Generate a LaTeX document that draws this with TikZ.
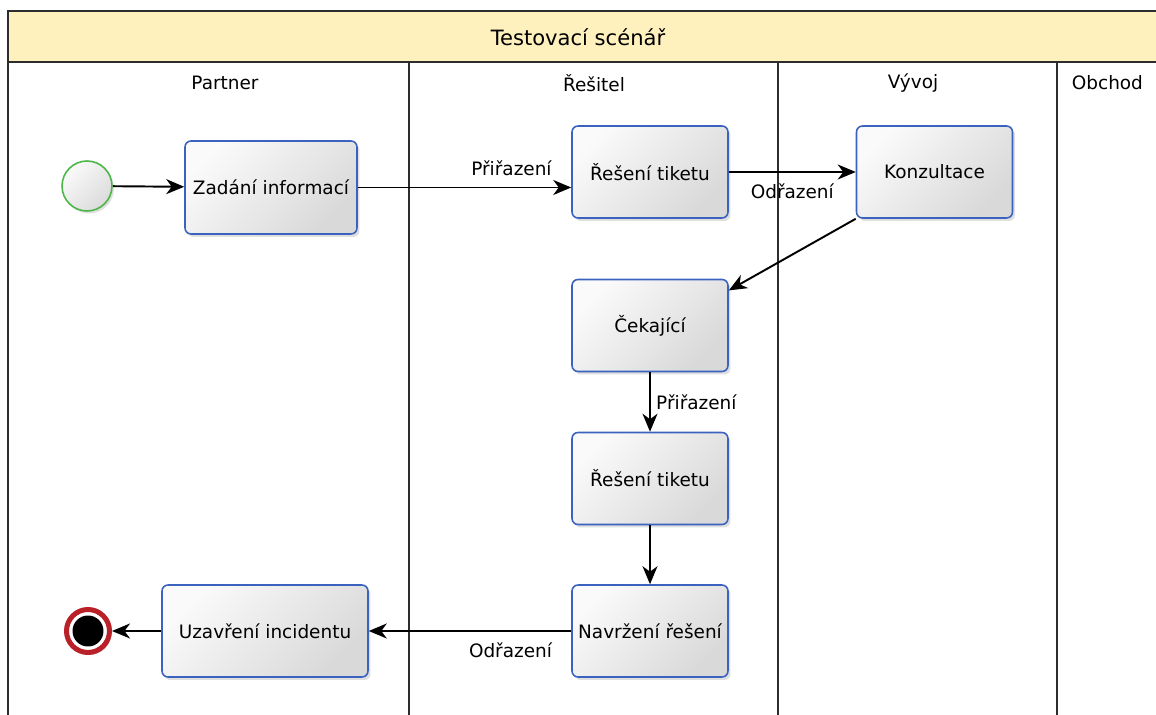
\documentclass[tikz,border=0pt]{standalone}
\usepackage{fontspec}
\setmainfont{DejaVu Sans}
\definecolor{lanegray}{RGB}{45,45,45}
\definecolor{titleyellow}{RGB}{255,241,190}
\definecolor{taskblue}{RGB}{58,98,190}
\definecolor{startgreen}{RGB}{76,182,72}
\definecolor{endred}{RGB}{185,32,40}
\usetikzlibrary{arrows.meta,positioning,shadows}

\begin{document}
\begin{tikzpicture}[x=0.02cm,y=-0.02cm,
  task/.style={draw=taskblue,line width=0.9pt,rounded corners=0.12cm,
    top color=gray!4,bottom color=gray!30,shading angle=45,
    drop shadow={shadow xshift=0.05cm,shadow yshift=-0.06cm,opacity=0.25},
    minimum width=3.12cm,minimum height=1.84cm,
    font=\fontsize{10.5}{12}\selectfont,inner sep=2pt},
  startnode/.style={draw=startgreen,circle,line width=0.9pt,minimum size=1cm,
    top color=gray!4,bottom color=gray!28,shading angle=45,
    drop shadow={shadow xshift=0.04cm,shadow yshift=-0.05cm,opacity=0.25}},
  endnode/.style={draw=endred,circle,line width=0.1cm,minimum size=0.86cm,fill=white,
    drop shadow={shadow xshift=0.04cm,shadow yshift=-0.05cm,opacity=0.25},
    path picture={\fill[black] (path picture bounding box.center) circle (0.31cm);}},
  flow/.style={-{Stealth[length=0.36cm,width=0.3cm,inset=0.11cm]},draw=black,line width=1.1pt},
  lbl/.style={font=\fontsize{10.5}{12}\selectfont,inner sep=2pt,text=black},
  lane/.style={draw=lanegray,line width=0.9pt}]
  \useasboundingbox (0,0) rectangle (1156,715);
  \fill[white] (0,0) rectangle (1156,715);
  \clip (0,0) rectangle (1156,715);
  % pool and lanes
  \filldraw[lane,fill=titleyellow] (8,11) rectangle (1170,62);
  \draw[lane] (8,62) -- (8,720);
  \foreach \x in {409,778,1057}
    \draw[lane] (\x,62) -- (\x,720);
  \node[font=\fontsize{12}{14}\selectfont] (title) at (578,37) {Testovací scénář};
  \node[lbl] (partner) at (225,83) {Partner};
  \node[lbl] (resitel) at (594,83) {Řešitel};
  \node[lbl] (vyvoj) at (913,83) {Vývoj};
  \node[lbl,anchor=west] (obchod) at (1068,83) {Obchod};
  % tasks
  \node[startnode] (start) at (87,186) {};
  \node[task,minimum width=3.44cm,minimum height=1.86cm] (zadani) at (271,187.5) {Zadání informací};
  \node[task] (reseni1) at (650,172) {Řešení tiketu};
  \node[task] (konz) at (934.5,172) {Konzultace};
  \node[task] (cekajici) at (650,325.5) {Čekající};
  \node[task] (reseni2) at (650,478.5) {Řešení tiketu};
  \node[task] (navrzeni) at (650,631) {Navržení řešení};
  \node[task,minimum width=4.12cm] (uzavreni) at (265,631) {Uzavření incidentu};
  \node[endnode] (end) at (88,631) {};
  % flows
  \draw[flow] (start) -- (zadani);
  \draw[flow] (zadani.east) -- (zadani.east -| reseni1.west)
    node[lbl,pos=0.72,above,yshift=4pt] {Přiřazení};
  \draw[flow] (reseni1) -- (konz) node[lbl,midway,below,yshift=-4pt] {Odřazení};
  \draw[flow] (konz.south west) -- (cekajici.24);
  \draw[flow] (cekajici) -- (reseni2) node[lbl,midway,right,xshift=1pt] {Přiřazení};
  \draw[flow] (reseni2) -- (navrzeni);
  \draw[flow] (navrzeni) -- (uzavreni) node[lbl,pos=0.3,below,yshift=-4pt] {Odřazení};
  \draw[flow] (uzavreni) -- (end);
\end{tikzpicture}
\end{document}
